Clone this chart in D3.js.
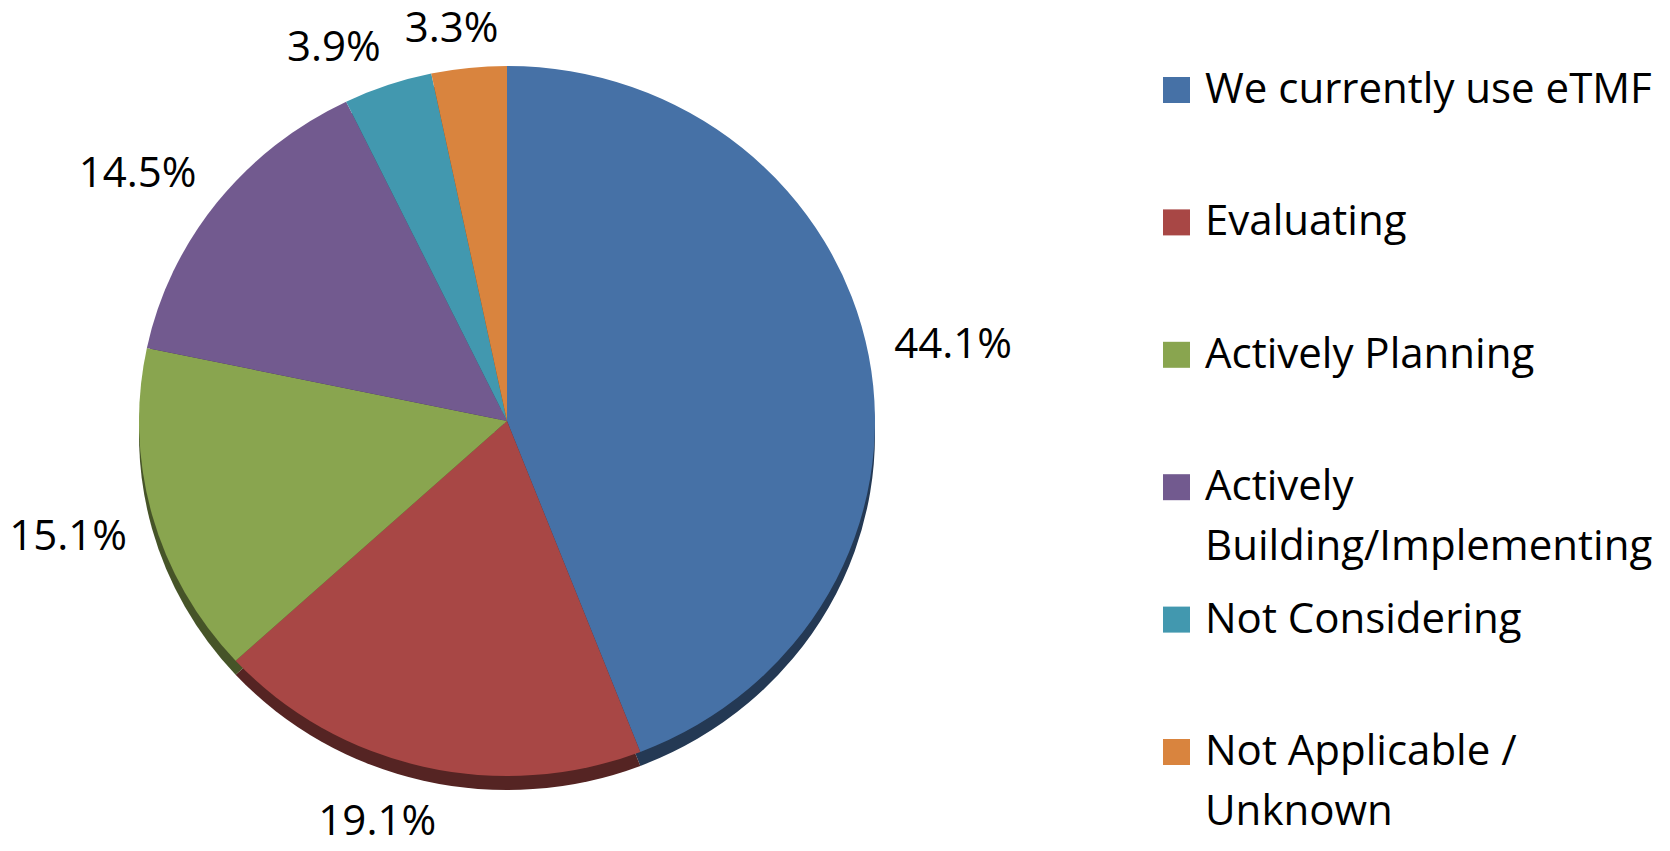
<!DOCTYPE html>
<html>
<head>
<meta charset="utf-8">
<script src="https://cdn.jsdelivr.net/npm/d3@7"></script>
<style>
  body { margin: 0; background: #fff; }
  text { font-family: "Open Sans", sans-serif; fill: #000; }
</style>
</head>
<body>
<div id="chart-area"></div>
<script>

// SVG Size
var width = 1670,
	height = 851;

// chart data
var categories = ["We currently use eTMF", "Evaluating", "Actively Planning",
	"Actively\nBuilding/Implementing", "Not Considering", "Not Applicable /\nUnknown"];
var values = [44.1, 19.1, 15.1, 14.5, 3.9, 3.3];
var valueLabels = ["44.1%", "19.1%", "15.1%", "14.5%", "3.9%", "3.3%"];
var colors = ["#4671a6", "#a84745", "#89a54f", "#725a8f", "#4298af", "#d9843e"];

var svg = d3.select("#chart-area")
	.append("svg")
	.attr("width", width)
	.attr("height", height);

// pie geometry (slightly tilted, so a bit flatter vertically)
var cx = 507, cy = 421, rx = 368, ry = 355, depth = 14;
var fontSize = 42;

var pie = d3.pie().sort(null).value(function (d) { return d; });
var slices = pie(values);

var arc = d3.arc().innerRadius(0).outerRadius(rx);

// shadow / side of the pie, a darker copy pushed down
svg.append("g")
	.attr("transform", "translate(" + cx + "," + (cy + depth) + ") scale(1," + (ry / rx) + ")")
	.selectAll("path").data(slices).enter()
	.append("path")
	.attr("d", arc)
	.attr("fill", function (d, i) { return d3.color(colors[i]).darker(1.9); });

svg.append("g")
	.attr("transform", "translate(" + cx + "," + cy + ") scale(1," + (ry / rx) + ")")
	.selectAll("path").data(slices).enter()
	.append("path")
	.attr("d", arc)
	.attr("fill", function (d, i) { return colors[i]; });

// data labels, placed outside the edge like excel does
var pad = 26, boxH = 30;
var clamp = function (v) { return Math.max(-1, Math.min(1, v)); };

slices.forEach(function (d, i) {
	var a = (d.startAngle + d.endAngle) / 2;
	var s = Math.sin(a), c = Math.cos(a);
	var t = svg.append("text")
		.attr("font-size", fontSize)
		.attr("text-anchor", "middle")
		.text(valueLabels[i]);
	var w = t.node().getComputedTextLength();
	// bottom half also has the pie's side below it
	var ryEff = ry + (c < 0 ? -c * depth : 0);
	var px = cx + s * (rx + pad) + clamp(3 * s) * w / 2;
	var py = cy - c * (ryEff + pad) - clamp(3 * c) * boxH / 2;
	t.attr("x", px).attr("y", py + fontSize * 0.36);
});

// legend
var legendY = d3.scaleLinear().domain([0, categories.length - 1]).range([103, 765]);

var legend = svg.selectAll(".legend").data(categories).enter()
	.append("g")
	.attr("class", "legend")
	.attr("transform", function (d, i) { return "translate(1163," + legendY(i) + ")"; });

legend.append("rect")
	.attr("x", 0)
	.attr("y", -26)
	.attr("width", 27)
	.attr("height", 26)
	.attr("fill", function (d, i) { return colors[i]; });

legend.append("text")
	.attr("font-size", fontSize)
	.attr("x", 42)
	.selectAll("tspan")
	.data(function (d) { return d.split("\n"); })
	.enter()
	.append("tspan")
	.attr("x", 42)
	.attr("dy", function (d, j) { return j === 0 ? 0 : 60; })
	.text(function (d) { return d; });

</script>
</body>
</html>
